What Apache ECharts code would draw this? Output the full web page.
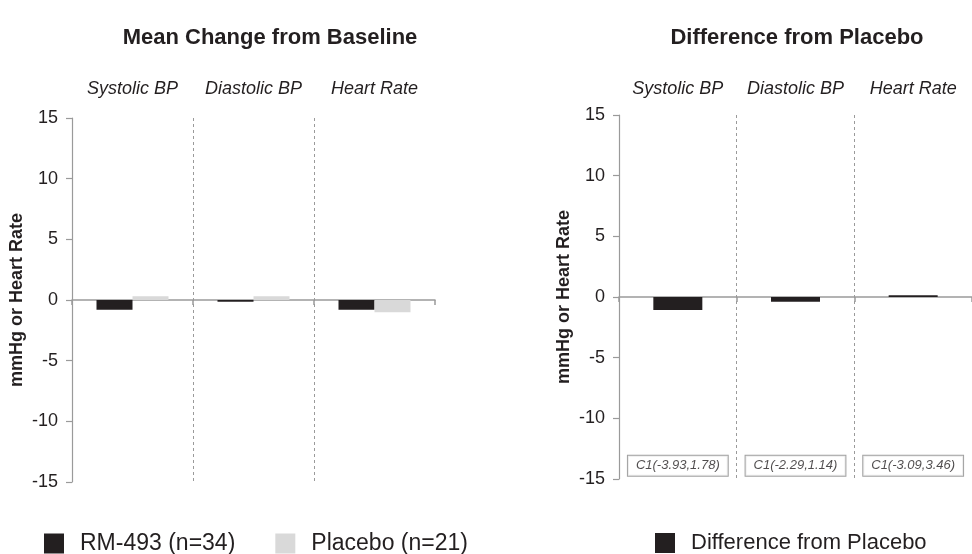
<!DOCTYPE html>
<html>
<head>
<meta charset="utf-8">
<script src="https://cdn.jsdelivr.net/npm/echarts@6/dist/echarts.min.js"></script>
<style>html,body{margin:0;padding:0;background:#fff}#c{width:972px;height:554px}</style>
</head>
<body>
<div id="c"></div>
<script>
const categories = ['Systolic BP', 'Diastolic BP', 'Heart Rate'];
const rm493 = [-0.8, -0.15, -0.8];
const placebo = [0.3, 0.3, -1.0];
const diffFromPlacebo = [-1.07, -0.4, 0.15];
const ciLabels = ['C1(-3.93,1.78)', 'C1(-2.29,1.14)', 'C1(-3.09,3.46)'];
const ciLabelY = [-13.9, -13.9, -13.9];
const yTicks = [-15, -10, -5, 0, 5, 10, 15];
const titles = ['Mean Change from Baseline', 'Difference from Placebo'];
const seriesNames = ['RM-493 (n=34)', 'Placebo (n=21)', 'Difference from Placebo'];

const FONT = 'Liberation Sans, Arial, Helvetica, sans-serif';
const DARK = '#231f20', LIGHT = '#d9d9d9', GRAY = '#9a9a9a', TXT = '#231f20';

const chart = echarts.init(document.getElementById('c'));

function yAxis(gi) {
  return {
    gridIndex: gi, type: 'value', min: yTicks[0], max: yTicks[yTicks.length - 1], interval: 5,
    name: 'mmHg or Heart Rate', nameLocation: 'middle', nameGap: 46,
    nameTextStyle: { fontFamily: FONT, fontWeight: 'bold', fontSize: 18, color: TXT },
    axisLine: { show: true, lineStyle: { color: GRAY, width: 1.2 } },
    axisTick: { show: true, length: 6, lineStyle: { color: GRAY, width: 1.2 } },
    axisLabel: { fontFamily: FONT, fontSize: 18, color: TXT, margin: 14 },
    splitLine: { show: false }
  };
}
function xAxisBottom(gi) {
  return {
    gridIndex: gi, type: 'category', data: categories, position: 'bottom',
    axisLine: { show: true, onZero: true, lineStyle: { color: GRAY, width: 1.5 } },
    axisTick: { show: true, length: 5, inside: false, lineStyle: { color: GRAY, width: 1.5 } },
    axisLabel: { show: false },
    splitLine: { show: true, showMinLine: false, showMaxLine: false, lineStyle: { color: GRAY, type: [3, 3], width: 1 } }
  };
}
function xAxisTop(gi, margin) {
  return {
    gridIndex: gi, type: 'category', data: categories, position: 'top',
    axisLine: { show: false, onZero: false }, axisTick: { show: false },
    axisLabel: { interval: 0, fontFamily: FONT, fontSize: 18, fontStyle: 'italic', color: TXT, margin: margin },
    splitLine: { show: false }
  };
}

chart.setOption({
  animation: false,
  backgroundColor: '#fff',
  title: [
    { text: titles[0], left: 265, top: 22, textAlign: 'center',
      textStyle: { fontFamily: FONT, fontWeight: 'bold', fontSize: 22, color: TXT } },
    { text: titles[1], left: 792, top: 22, textAlign: 'center',
      textStyle: { fontFamily: FONT, fontWeight: 'bold', fontSize: 22, color: TXT } }
  ],
  legend: [
    { data: [seriesNames[0], seriesNames[1]], left: 44, top: 532, padding: 0, itemWidth: 20, itemHeight: 20, itemGap: 40,
      icon: 'rect', textStyle: { fontFamily: FONT, fontSize: 23, color: TXT, padding: [0, 0, 0, 11] } },
    { data: [seriesNames[2]], left: 655, top: 532, padding: 0, itemWidth: 20, itemHeight: 20,
      icon: 'rect', textStyle: { fontFamily: FONT, fontSize: 22, color: TXT, padding: [0, 0, 0, 11] } }
  ],
  grid: [
    { left: 72, top: 118, width: 363, height: 364 },
    { left: 619, top: 115, width: 363, height: 364 }
  ],
  xAxis: [xAxisBottom(0), xAxisTop(0, 20), xAxisBottom(1), xAxisTop(1, 17)],
  yAxis: [yAxis(0), yAxis(1)],
  series: [
    { name: seriesNames[0], type: 'bar', xAxisIndex: 0, yAxisIndex: 0, data: rm493,
      barWidth: 36, barGap: '0%', itemStyle: { color: DARK } },
    { name: seriesNames[1], type: 'bar', xAxisIndex: 0, yAxisIndex: 0, data: placebo,
      barWidth: 36, barGap: '0%', itemStyle: { color: LIGHT } },
    { name: seriesNames[2], type: 'bar', xAxisIndex: 2, yAxisIndex: 1, data: diffFromPlacebo,
      barWidth: 49, itemStyle: { color: DARK } },
    { name: 'CI', type: 'scatter', xAxisIndex: 2, yAxisIndex: 1, symbolSize: 0,
      data: ciLabelY.map((v, i) => [categories[i], v]),
      label: { show: true, position: 'inside', formatter: p => ciLabels[p.dataIndex],
        fontFamily: FONT, fontStyle: 'italic', fontSize: 13, color: TXT,
        borderColor: '#8a8a8a', borderWidth: 1, padding: [4, 8, 3, 8], backgroundColor: '#fff' },
      silent: true }
  ]
});
</script>
</body>
</html>
